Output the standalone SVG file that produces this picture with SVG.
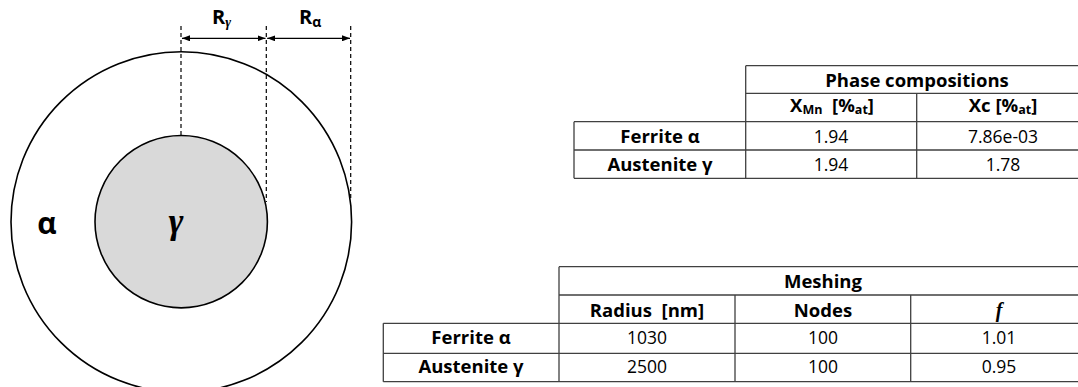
<svg xmlns="http://www.w3.org/2000/svg" width="1078" height="387" viewBox="0 0 1078 387">
<style>
text{font-family:"Open Sans","Noto Sans","DejaVu Sans",sans-serif;fill:#000}
.b{font-weight:bold}
.h{font-size:18.5px;font-weight:bold;text-anchor:middle}
.v{font-size:17.5px;text-anchor:middle}
.sub{font-size:12.5px}
.grid{stroke:#404040;stroke-width:1.3;fill:none}
.dash{stroke:#000;stroke-width:1.2;stroke-dasharray:4 3;fill:none}
.dim{stroke:#000;stroke-width:1.3;fill:none}
.circ{stroke:#000;stroke-width:1.6}
.greek{font-family:"Liberation Serif","DejaVu Serif",serif;font-style:italic;font-weight:bold}
</style>
<defs>
<marker id="ah" viewBox="0 0 8 6" refX="8" refY="3" markerWidth="8" markerHeight="6" markerUnits="userSpaceOnUse" orient="auto-start-reverse">
<path d="M0,0 L8,3 L0,6 z" fill="#000"/>
</marker>
</defs>
<rect width="1078" height="387" fill="#fff"/>

<g id="alpha-phase">
<circle class="circ" cx="181.3" cy="222" r="170.3" fill="#fff"/>
<text x="47" y="234" class="b" font-size="30" text-anchor="middle">α</text>
</g>
<g id="gamma-phase">
<circle class="circ" cx="181.2" cy="221.7" r="86.2" fill="#d9d9d9"/>
<text x="176" y="233" class="greek" font-size="36" text-anchor="middle">γ</text>
</g>

<g id="connectors">
<line class="dash" x1="181" y1="26" x2="181" y2="135"/>
<line class="dash" x1="266.3" y1="26" x2="266.3" y2="202"/>
<line class="dash" x1="350.7" y1="26" x2="350.7" y2="198"/>
<line class="dim" x1="182" y1="38.3" x2="265.5" y2="38.3" marker-start="url(#ah)" marker-end="url(#ah)"/>
<line class="dim" x1="267.2" y1="38.3" x2="350" y2="38.3" marker-start="url(#ah)" marker-end="url(#ah)"/>
</g>
<g id="label-Rgamma"><text x="212" y="24" class="b" font-size="20">R<tspan class="greek" font-size="14" dy="3">γ</tspan></text></g>
<g id="label-Ralpha"><text x="299" y="24" class="b" font-size="20">R<tspan font-size="14" dy="3">α</tspan></text></g>

<g id="table-phase">
<path class="grid" d="M745.7,65.7H1078M745.7,93.3H1078M574,121.7H1078M574,150H1078M574,178.3H1078M745.7,65.7V178.3M916.7,93.3V178.3M574,121.7V178.3"/>
<text x="917" y="86.5" class="h">Phase compositions</text>
<text x="832" y="112" class="h" xml:space="preserve">X<tspan class="sub" dy="2">Mn</tspan><tspan dy="-2">  [%</tspan><tspan class="sub" dy="2">at</tspan><tspan dy="-2">]</tspan></text>
<text x="1003" y="112" class="h">Xc [%<tspan class="sub" dy="2">at</tspan><tspan dy="-2">]</tspan></text>
<text x="660" y="142.5" class="h">Ferrite α</text>
<text x="660" y="171" class="h">Austenite γ</text>
<text x="831" y="142.5" class="v">1.94</text>
<text x="831" y="171" class="v">1.94</text>
<text x="1003" y="142.5" class="v">7.86e-03</text>
<text x="1003" y="171" class="v">1.78</text>
</g>

<g id="table-meshing">
<path class="grid" d="M559,266.7H1078M559,295H1078M383.3,323.3H1078M383.3,353.3H1078M383.3,381.7H1078M559,266.7V381.7M735,295V381.7M910.7,295V381.7M383.3,323.3V381.7"/>
<text x="823" y="288" class="h">Meshing</text>
<text x="647" y="316.5" class="h" xml:space="preserve">Radius  [nm]</text>
<text x="823" y="316.5" class="h">Nodes</text>
<text x="999" y="316.5" class="greek" font-size="20" text-anchor="middle">f</text>
<text x="471" y="344" class="h">Ferrite α</text>
<text x="471" y="372.5" class="h">Austenite γ</text>
<text x="647" y="344" class="v">1030</text>
<text x="647" y="372.5" class="v">2500</text>
<text x="823" y="344" class="v">100</text>
<text x="823" y="372.5" class="v">100</text>
<text x="999" y="344" class="v">1.01</text>
<text x="999" y="372.5" class="v">0.95</text>
</g>
</svg>
